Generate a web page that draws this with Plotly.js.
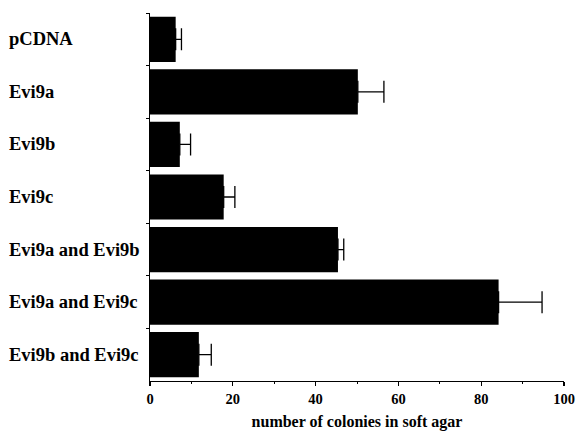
<!DOCTYPE html>
<html>
<head>
<meta charset="utf-8">
<script src="https://cdn.plot.ly/plotly-3.0.1.min.js"></script>
<style>html,body{margin:0;padding:0;background:#fff;}#chart{width:576px;height:435px;}</style>
</head>
<body>
<div id="chart"></div>
<script>
const categories = ["pCDNA", "Evi9a", "Evi9b", "Evi9c", "Evi9a and Evi9b", "Evi9a and Evi9c", "Evi9b and Evi9c"];
const colonies = [6.2, 50.2, 7.2, 17.8, 45.4, 84.2, 11.8];
const errors = [1.4, 6.3, 2.6, 2.7, 1.4, 10.5, 3.0];
const xTickVals = [0, 20, 40, 60, 80, 100];
const xTickText = ["0", "20", "40", "60", "80", "100"];

const serif = "Liberation Serif";

const trace = {
  type: "bar",
  orientation: "h",
  y: categories,
  x: colonies,
  marker: {color: "#000000", line: {width: 0}},
  error_x: {
    type: "data",
    symmetric: false,
    array: errors,
    arrayminus: errors.map(() => 0),
    color: "#000000",
    thickness: 1.3,
    width: 11
  },
  hoverinfo: "skip",
  cliponaxis: false
};

const annotations = categories.map(c => ({
  xref: "paper", yref: "y",
  x: -0.345, y: c,
  xanchor: "left", yanchor: "middle",
  text: "<b>" + c + "</b>", showarrow: false,
  font: {family: serif, size: 18.5, color: "#000"}
}));

const layout = {
  width: 576, height: 435,
  margin: {l: 150, r: 12, t: 13, b: 54},
  paper_bgcolor: "#ffffff",
  plot_bgcolor: "#ffffff",
  showlegend: false,
  bargap: 0.14,
  xaxis: {
    range: [0, 100],
    tickvals: xTickVals,
    ticktext: xTickText.map(t => "<b>" + t + "</b>"),
    ticklabeloverflow: "allow",
    ticks: "outside", ticklen: 4, tickwidth: 1.2, tickcolor: "#000",
    minor: {dtick: 10, ticks: "outside", ticklen: 2, tickwidth: 1, tickcolor: "#000"},
    showline: true, linecolor: "#000", linewidth: 1.3,
    showgrid: false, zeroline: false,
    tickfont: {family: serif, size: 14.5, color: "#000"},
    title: {text: "<b>number of colonies in soft agar</b>", font: {family: serif, size: 16, color: "#000"}, standoff: 10}
  },
  yaxis: {
    type: "category",
    categoryorder: "array",
    categoryarray: categories,
    range: [6.5, -0.5],
    showticklabels: false,
    ticks: "outside", ticklen: 3, tickwidth: 1, tickcolor: "#000",
    tickson: "boundaries",
    showline: true, linecolor: "#000", linewidth: 1.3,
    showgrid: false, zeroline: false
  },
  annotations: annotations
};

Plotly.newPlot("chart", [trace], layout, {displayModeBar: false, staticPlot: true});
</script>
</body>
</html>
